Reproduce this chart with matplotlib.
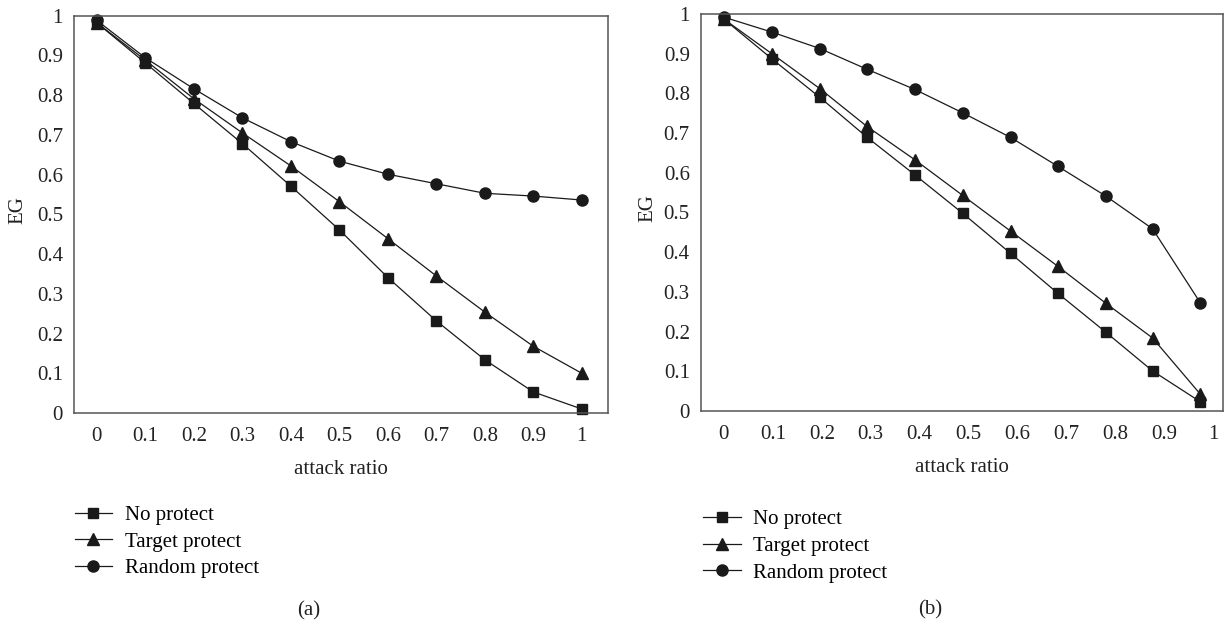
import matplotlib
matplotlib.use("Agg")
import matplotlib.pyplot as plt
from matplotlib.lines import Line2D

# ========================
# data
# ========================
series_names = ["No protect", "Target protect", "Random protect"]

ratio_a = [0.0, 0.1, 0.2, 0.3, 0.4, 0.5, 0.6, 0.7, 0.8, 0.9, 1.0]
no_protect_a = [0.982, 0.881, 0.779, 0.678, 0.571, 0.461, 0.341, 0.232, 0.134, 0.053, 0.010]
target_protect_a = [0.982, 0.888, 0.791, 0.705, 0.622, 0.532, 0.439, 0.345, 0.254, 0.168, 0.100]
random_protect_a = [0.988, 0.894, 0.816, 0.743, 0.683, 0.634, 0.601, 0.577, 0.553, 0.546, 0.536]

ratio_b = [0.0, 0.099, 0.196, 0.292, 0.390, 0.488, 0.586, 0.683, 0.781, 0.876, 0.974]
no_protect_b = [0.987, 0.886, 0.790, 0.690, 0.595, 0.498, 0.397, 0.296, 0.198, 0.101, 0.023]
target_protect_b = [0.987, 0.899, 0.812, 0.717, 0.633, 0.543, 0.453, 0.364, 0.271, 0.184, 0.042]
random_protect_b = [0.992, 0.954, 0.913, 0.861, 0.810, 0.751, 0.689, 0.616, 0.541, 0.459, 0.272]

tick_values = [0, 0.1, 0.2, 0.3, 0.4, 0.5, 0.6, 0.7, 0.8, 0.9, 1]
tick_labels = ["0", "0.1", "0.2", "0.3", "0.4", "0.5", "0.6", "0.7", "0.8", "0.9", "1"]

plt.rcParams["font.family"] = ["Liberation Serif", "DejaVu Serif"]
FS = 15
INK = "#1a1a1a"
TXT = "#222222"
STYLES = [
    dict(marker="s", markersize=7.5),
    dict(marker="^", markersize=8.5),
    dict(marker="o", markersize=8),
]


def draw_panel(fig, rect, x, ys, xlim, ylab_x, tag, tag_pos, legend_pos):
    ax = fig.add_axes(rect)
    for y, st in zip(ys, STYLES):
        ax.plot(x, y, color=INK, lw=0.9, mfc=INK, mec=INK, clip_on=False, **st)

    ax.set_xlim(*xlim)
    ax.set_ylim(0, 1)
    ax.set_xticks(tick_values)
    ax.set_xticklabels(tick_labels)
    ax.set_yticks(tick_values)
    ax.set_yticklabels(tick_labels)
    ax.tick_params(length=0, labelsize=FS, colors=TXT)
    ax.tick_params(axis="x", pad=10)
    ax.tick_params(axis="y", pad=8)
    for sp in ax.spines.values():
        sp.set_color("#555555")
        sp.set_linewidth(1.1)

    ax.set_xlabel("attack ratio", fontsize=FS, color=TXT, labelpad=10.5)
    ax.set_ylabel("EG", fontsize=FS, color=TXT)
    ax.yaxis.set_label_coords(ylab_x, 0.51)

    handles = [Line2D([], [], color=INK, lw=0.9, mfc=INK, mec=INK, **st) for st in STYLES]
    ax.legend(handles, series_names, loc="upper left", bbox_to_anchor=legend_pos,
              bbox_transform=fig.transFigure, frameon=False, fontsize=FS,
              borderpad=0, borderaxespad=0, handlelength=1.8, handletextpad=0.6,
              labelspacing=0.34)

    fig.text(tag_pos[0], tag_pos[1], tag, fontsize=FS, ha="center", va="center", color=TXT)
    return ax


def main():
    fig = plt.figure(figsize=(12.28, 6.27), dpi=100)

    draw_panel(fig, [0.0603, 0.3413, 0.4348, 0.6337], ratio_a,
               [no_protect_a, target_protect_a, random_protect_a],
               (-0.047, 1.054), -0.088, "(a)", (309 / 1228, 1 - 611 / 627), (0.0607, 0.194))
    draw_panel(fig, [0.5708, 0.3445, 0.4251, 0.6332], ratio_b,
               [no_protect_b, target_protect_b, random_protect_b],
               (-0.047, 1.020), -0.084, "(b)", (930 / 1228, 1 - 610 / 627), (0.5725, 0.187))

    fig.savefig("out.png", dpi=100)
    plt.close(fig)


if __name__ == "__main__":
    main()
